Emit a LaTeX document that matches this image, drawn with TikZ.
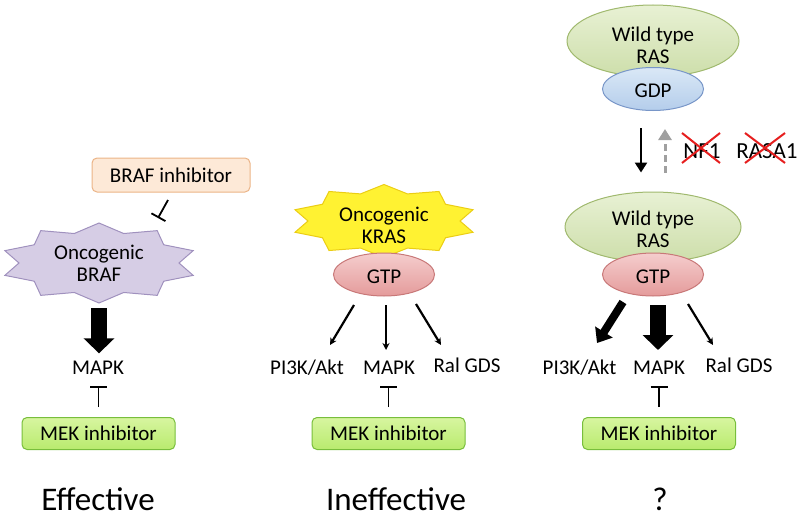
\documentclass[tikz,border=0pt]{standalone}
\usepackage{fontspec}
\setmainfont{Carlito}
\usetikzlibrary{shapes.geometric,arrows.meta}
\definecolor{peachfill}{RGB}{253,233,215}
\definecolor{peachdraw}{RGB}{235,180,135}
\definecolor{lavfill}{RGB}{214,205,229}
\definecolor{lavdraw}{RGB}{160,145,190}
\definecolor{yelfill}{RGB}{255,242,50}
\definecolor{yeldraw}{RGB}{235,205,20}
\definecolor{pinktop}{RGB}{245,205,205}
\definecolor{pinkbot}{RGB}{228,155,155}
\definecolor{pinkdraw}{RGB}{200,120,120}
\definecolor{greentop}{RGB}{232,241,212}
\definecolor{greenbot}{RGB}{205,222,170}
\definecolor{greendraw}{RGB}{160,185,110}
\definecolor{bluetop}{RGB}{218,232,246}
\definecolor{bluebot}{RGB}{180,205,235}
\definecolor{bluedraw}{RGB}{120,150,200}
\definecolor{mektop}{RGB}{215,245,160}
\definecolor{mekbot}{RGB}{185,235,110}
\definecolor{mekdraw}{RGB}{120,190,60}
\definecolor{grayarr}{RGB}{160,160,160}
\definecolor{redx}{RGB}{230,30,30}
\begin{document}
\begin{tikzpicture}[x=1pt,y=-1pt,
  txt/.style={font=\fontsize{21}{22}\selectfont, inner sep=0pt},
  lbl/.style={txt, anchor=base},
  big/.style={font=\fontsize{33}{36}\selectfont, inner sep=0pt, anchor=base},
  mid/.style={font=\fontsize{23}{25}\selectfont, inner sep=0pt, anchor=base},
  mekbox/.style={draw=mekdraw, line width=1pt, rounded corners=5pt, top color=mektop, bottom color=mekbot,
    minimum width=153pt, minimum height=32pt, inner sep=0pt, txt},
  bubble/.style={ellipse, inner sep=0pt, line width=1pt},
  smallbub/.style={bubble, minimum width=101pt, minimum height=43pt, txt, text height=17.5pt, text depth=0pt},
  pinkbub/.style={smallbub, draw=pinkdraw, top color=pinktop, bottom color=pinkbot},
  bluebub/.style={smallbub, draw=bluedraw, top color=bluetop, bottom color=bluebot},
  greenbub/.style={bubble, draw=greendraw, top color=greentop, bottom color=greenbot},
  fat/.style={line width=16pt, -{Triangle[width=30pt,length=15pt]}},
  fatsm/.style={line width=8pt, -{Triangle[width=20pt,length=13pt]}},
  thinarr/.style={line width=2.2pt, -{Stealth[length=7pt,width=7pt]}},
  tbar/.style={line width=1.8pt, -{Bar[width=17pt]}},
  inh/.style={line width=1.8pt, -{Bar[width=16pt]}},
  blkarr/.style={line width=2.5pt, -{Triangle[width=12pt,length=10pt]}},
  grayarrow/.style={line width=3pt, draw=grayarr, dash pattern=on 7pt off 4pt, -{Triangle[width=13pt,length=11pt]}},
  crossx/.style={line width=2pt, draw=redx}
]
\useasboundingbox (0,0) rectangle (800,519);

% ---------------- Panel 1 ----------------
\node[draw=peachdraw, fill=peachfill, rounded corners=5pt, line width=1pt,
      minimum width=158pt, minimum height=34pt, txt] (brafinh) at (171,175) {BRAF inhibitor};
\coordinate (brafc) at (99,263);
\filldraw[fill=lavfill, draw=lavdraw, line width=1pt, shift={(brafc)}]
  (90:99 and 40) \foreach \i in {0,...,9}{ -- ({108+36*\i}:80 and 31) -- ({126+36*\i}:99 and 40)} -- cycle;
\node[txt, align=center, minimum width=188pt, minimum height=80pt] (braf) at (brafc) {Oncogenic\\BRAF};
\coordinate (bi1) at (168,200);
\coordinate (bi2) at (158,218);
\draw[inh] (bi1) -- (bi2);
\node[lbl] (mapk1) at (98,374) {MAPK};
\draw[fat, shorten <=5pt, shorten >=7pt] (braf.south) -- (braf.south |- mapk1.north);
\node[mekbox] (mek1) at (98.5,433.5) {MEK inhibitor};
\draw[tbar, shorten <=10pt, shorten >=12pt] (mek1.north) -- (mek1.north |- mapk1.south);
\node[big] (eff) at (98,510) {Effective};

% ---------------- Panel 2 ----------------
\coordinate (krasc) at (384,221);
\filldraw[fill=yelfill, draw=yeldraw, line width=1pt, shift={(krasc)}]
  (90:93.6 and 36.5) \foreach \i in {0,...,9}{ -- ({108+36*\i}:76 and 28.5) -- ({126+36*\i}:93.6 and 36.5)} -- cycle;
\node[txt, align=center, minimum width=178pt, minimum height=73pt] (kras) at (384,225) {Oncogenic\\KRAS};
\node[pinkbub] (gtp2) at (384,274.5) {GTP};
\node[lbl] (pi2) at (307,374) {PI3K/Akt};
\node[lbl] (mapk2) at (389,374) {MAPK};
\node[lbl] (ral2) at (467,372) {Ral GDS};
\coordinate (a2ls) at (354,305); \coordinate (a2le) at (330,345);
\coordinate (a2ms) at (386,305); \coordinate (a2me) at (386,350);
\coordinate (a2rs) at (416,304); \coordinate (a2re) at (441,345);
\draw[thinarr] (a2ls) -- (a2le);
\draw[thinarr] (a2ms) -- (a2me);
\draw[thinarr] (a2rs) -- (a2re);
\node[mekbox] (mek2) at (388.5,433.5) {MEK inhibitor};
\draw[tbar, shorten <=10pt, shorten >=12pt] (mek2.north) -- (mek2.north |- mapk2.south);
\node[big] (ineff) at (396,510) {Ineffective};

% ---------------- Panel 3 ----------------
\node[greenbub, minimum width=172pt, minimum height=72pt] (wt1) at (653,41) {};
\node[txt, align=center] (wt1t) at (653,45) {Wild type\\RAS};
\node[bluebub] (gdp) at (653,89) {GDP};
\node[greenbub, minimum width=176pt, minimum height=70pt] (wt2) at (653,227) {};
\node[txt, align=center] (wt2t) at (653,229) {Wild type\\RAS};
\node[pinkbub] (gtp3) at (653,274.5) {GTP};

\draw[blkarr, shorten <=17pt, shorten >=19pt] ([xshift=-12pt]gdp.south) -- ([xshift=-12pt]gdp.south |- wt2.north);
\draw[grayarrow, shorten <=19pt, shorten >=18pt] ([xshift=12pt]gdp.south |- wt2.north) -- ([xshift=12pt]gdp.south);

\node[mid] (nf1) at (702,158) {NF1};
\node[mid] (rasa1) at (767,158) {RASA1};
\draw[crossx] (682,133) -- (720,163) (682,163) -- (720,133);
\draw[crossx] (745,133) -- (785,163) (745,163) -- (785,133);

\node[lbl] (pi3) at (579.5,374) {PI3K/Akt};
\node[lbl] (mapk3) at (659,374) {MAPK};
\node[lbl] (ral3) at (739,372) {Ral GDS};
\coordinate (a3ls) at (623,302); \coordinate (a3le) at (597,343);
\coordinate (a3ms) at (658,305); \coordinate (a3me) at (658,350);
\coordinate (a3rs) at (688,304); \coordinate (a3re) at (713,345);
\draw[fatsm] (a3ls) -- (a3le);
\draw[fat] (a3ms) -- (a3me);
\draw[thinarr] (a3rs) -- (a3re);
\node[mekbox] (mek3) at (659,433.5) {MEK inhibitor};
\draw[tbar, shorten <=10pt, shorten >=12pt] (mek3.north) -- (mek3.north |- mapk3.south);
\node[big] (q) at (660,510) {?};
\end{tikzpicture}
\end{document}
